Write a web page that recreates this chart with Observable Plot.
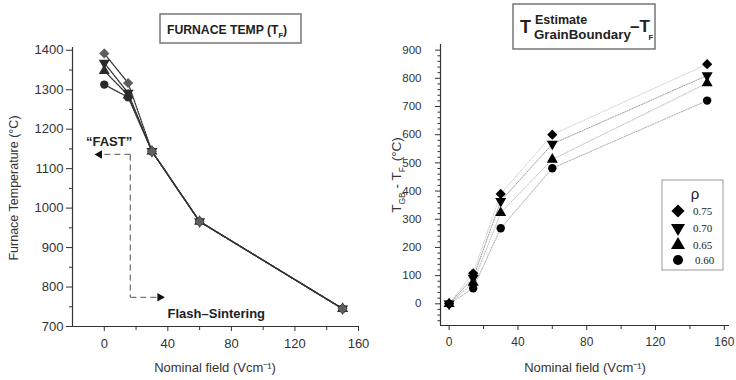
<!DOCTYPE html>
<html>
<head>
<meta charset="utf-8">
<script src="https://cdn.jsdelivr.net/npm/d3@7"></script>
<script src="https://cdn.jsdelivr.net/npm/@observablehq/plot@0.6"></script>
<style>
  html, body { margin: 0; padding: 0; background: #fff; }
  #wrap { position: relative; width: 736px; height: 380px; font-family: "Liberation Sans", Arial, sans-serif; }
  #wrap > svg { position: absolute; top: 0; }
</style>
</head>
<body>
<div id="wrap"></div>
<script>
// ---------- data ----------
const rhoLabels = ["0.75", "0.70", "0.65", "0.60"];
const fieldL = [0, 15, 30, 60, 150];
const fieldR = [0, 14, 30, 60, 150];

// Furnace temperature (°C)
const furnace075 = [1392, 1317, 1144, 966, 745];
const furnace070 = [1368, 1292, 1144, 966, 745];
const furnace065 = [1348, 1286, 1144, 966, 745];
const furnace060 = [1313, 1281, 1144, 966, 745];

// T_GB - T_F (°C)
const gb075 = [0, 108, 390, 600, 850];
const gb070 = [0, 92, 364, 567, 810];
const gb065 = [0, 75, 323, 512, 783];
const gb060 = [0, 55, 268, 481, 721];

const xTicks = [0, 40, 80, 120, 160];
const xMinorL = [20, 60, 100, 140];
const xMinorR = [20, 60, 100, 140];
const yTicksL = [700, 800, 900, 1000, 1100, 1200, 1300, 1400];
const yMinorL = [750, 850, 950, 1050, 1150, 1250, 1350];
const yTicksR = [0, 100, 200, 300, 400, 500, 600, 700, 800, 900];

// annotation anchors (data coordinates of the left panel)
const fastText = [{x: 3, y: 1167, t: "\u201CFAST\u201D"}];
const flashText = [{x: 70.5, y: 733, t: "Flash\u2013Sintering"}];
const guideSegs = [
  {x1: 16.4, y1: 1136, x2: -2, y2: 1136},
  {x1: 16.4, y1: 1136, x2: 16.4, y2: 774},
  {x1: 16.4, y1: 774, x2: 34, y2: 774}
];
const arrowHeads = [{x: -3, y: 1136, rot: -90}, {x: 35, y: 774, rot: 90}];

// ---------- symbols ----------
const symDown = {
  draw(ctx, size) {
    const y = -Math.sqrt(size / (Math.sqrt(3) * 3));
    ctx.moveTo(0, -y * 2);
    ctx.lineTo(Math.sqrt(3) * y, y);
    ctx.lineTo(-Math.sqrt(3) * y, y);
    ctx.closePath();
  }
};
const symbols = [d3.symbolDiamond2, symDown, d3.symbolTriangle, d3.symbolCircle];
const radii = [4.6, 4.1, 4.1, 4.2];

const furnaceSeries = [furnace075, furnace070, furnace065, furnace060];
const gbSeries = [gb075, gb070, gb065, gb060];
const rowsL = furnaceSeries.map((s, k) => fieldL.map((x, i) => ({x, y: s[i], rho: rhoLabels[k]})));
const rowsR = gbSeries.map((s, k) => fieldR.map((x, i) => ({x, y: s[i], rho: rhoLabels[k]})));

const noText = () => "";
const wrap = document.getElementById("wrap");

// ---------- left panel ----------
const leftMarks = [
  Plot.ruleX([-20], {stroke: "#333", strokeWidth: 1.2}),
  Plot.ruleY([700], {stroke: "#333", strokeWidth: 1.2}),
  Plot.axisY({ticks: yTicksL, tickFormat: "d", tickSize: 6, tickPadding: 3, label: null, fontSize: 13}),
  Plot.axisY({ticks: yMinorL, tickSize: 3, tickFormat: noText, label: null}),
  Plot.axisX({ticks: xTicks, tickFormat: "d", tickSize: 5, tickPadding: 7, label: null, fontSize: 13}),
  Plot.axisX({ticks: xMinorL, tickSize: 4, tickFormat: noText, label: null}),
  // annotation guides
  Plot.link(guideSegs, {x1: "x1", y1: "y1", x2: "x2", y2: "y2", stroke: "#777", strokeWidth: 1.3, strokeDasharray: "6,4"}),
  Plot.dot(arrowHeads, {x: "x", y: "y", rotate: "rot", symbol: "triangle", r: 3.2, fill: "#111", stroke: "none"}),
  Plot.text(fastText, {x: "x", y: "y", text: "t", fontWeight: "bold", fontSize: 13, fill: "#222"}),
  Plot.text(flashText, {x: "x", y: "y", text: "t", fontWeight: "bold", fontSize: 13, fill: "#222"})
];
for (let k = 3; k >= 0; k--) {
  leftMarks.push(Plot.line(rowsL[k], {x: "x", y: "y", stroke: "#333", strokeWidth: 1.3, strokeDasharray: "1.5,1.2"}));
}
for (let k = 3; k >= 0; k--) {
  leftMarks.push(Plot.dot(rowsL[k], {x: "x", y: "y", symbol: symbols[k], r: radii[k], fill: k === 0 ? "#5e5e5e" : "#2a2a2a", stroke: "none"}));
}
const left = Plot.plot({
  width: 368, height: 380,
  marginLeft: 72, marginRight: 10, marginTop: 47, marginBottom: 54,
  x: {domain: [-20, 160]},
  y: {domain: [700, 1407]},
  style: {fontFamily: "Liberation Sans, Arial, sans-serif", color: "#333", background: "transparent", overflow: "visible"},
  marks: leftMarks
});
left.style.left = "0px";
wrap.appendChild(left);

// ---------- right panel ----------
const lineColors = ["#cfcfcf", "#9a9a9a", "#bdbdbd", "#a8a8a8"];
const rightMarks = [
  Plot.ruleX([-5], {stroke: "#333", strokeWidth: 1.2}),
  Plot.ruleY([-77], {stroke: "#333", strokeWidth: 1.2}),
  Plot.axisY({ticks: yTicksR, tickFormat: "d", tickSize: 5, tickPadding: 14, label: null, fontSize: 11.5}),
  Plot.axisY({ticks: d3.range(-60, 920, 20).filter(v => v % 100 !== 0), tickSize: 2.5, tickFormat: noText, label: null}),
  Plot.axisX({ticks: xTicks, tickFormat: "d", tickSize: 5, tickPadding: 7, label: null, fontSize: 12}),
  Plot.axisX({ticks: xMinorR, tickSize: 4, tickFormat: noText, label: null})
];
for (let k = 0; k < 4; k++) {
  rightMarks.push(Plot.line(rowsR[k], {x: "x", y: "y", stroke: lineColors[k], strokeWidth: 1, strokeDasharray: "1.2,1.4"}));
}
for (let k = 3; k >= 0; k--) {
  rightMarks.push(Plot.dot(rowsR[k], {x: "x", y: "y", symbol: symbols[k], r: radii[k], fill: "#000", stroke: "none"}));
}
const right = Plot.plot({
  width: 368, height: 380,
  marginLeft: 72, marginRight: 7, marginTop: 44, marginBottom: 55,
  x: {domain: [-5, 163]},
  y: {domain: [-77, 920]},
  style: {fontFamily: "Liberation Sans, Arial, sans-serif", color: "#333", background: "transparent", overflow: "visible"},
  marks: rightMarks
});
right.style.left = "368px";
wrap.appendChild(right);

// ---------- overlay: titles, axis titles, legend ----------
const ov = d3.select(wrap).append("svg")
  .attr("width", 736).attr("height", 380)
  .style("left", "0px").style("pointer-events", "none")
  .attr("font-family", "Liberation Sans, Arial, sans-serif");

// left title box
ov.append("rect").attr("x", 160).attr("y", 14).attr("width", 141).attr("height", 29)
  .attr("fill", "#fff").attr("stroke", "#777").attr("stroke-width", 1.5);
const t1 = ov.append("text").attr("x", 167).attr("y", 34).attr("font-size", 12.2).attr("font-weight", "bold").attr("fill", "#222");
t1.append("tspan").text("FURNACE TEMP (T");
t1.append("tspan").attr("font-size", 7.5).attr("dy", 4).text("F");
t1.append("tspan").attr("dy", -4).text(")");

// right title box
ov.append("rect").attr("x", 513).attr("y", 4).attr("width", 142).attr("height", 45)
  .attr("fill", "#fff").attr("stroke", "#777").attr("stroke-width", 1.5);
ov.append("text").attr("x", 520).attr("y", 33).attr("font-size", 18).attr("font-weight", "bold").attr("fill", "#222").text("T");
ov.append("text").attr("x", 535).attr("y", 24).attr("font-size", 12.5).attr("font-weight", "bold").attr("fill", "#222").text("Estimate");
ov.append("text").attr("x", 534).attr("y", 39).attr("font-size", 13.3).attr("font-weight", "bold").attr("fill", "#222").text("GrainBoundary");
ov.append("text").attr("x", 630).attr("y", 32).attr("font-size", 17).attr("font-weight", "bold").attr("fill", "#222").text("\u2013T");
ov.append("text").attr("x", 648.5).attr("y", 40).attr("font-size", 7.5).attr("font-weight", "bold").attr("fill", "#222").text("F");

// axis titles
ov.append("text").attr("transform", "translate(18,188) rotate(-90)").attr("text-anchor", "middle")
  .attr("font-size", 12.5).attr("fill", "#333").text("Furnace Temperature (\u00B0C)");
ov.append("text").attr("x", 215).attr("y", 372).attr("text-anchor", "middle")
  .attr("font-size", 13).attr("fill", "#333").text("Nominal field (Vcm\u207B\u00B9)");
ov.append("text").attr("x", 585).attr("y", 372).attr("text-anchor", "middle")
  .attr("font-size", 13).attr("fill", "#333").text("Nominal field (Vcm\u207B\u00B9)");
const yr = ov.append("text").attr("transform", "translate(401,175) rotate(-90)").attr("text-anchor", "middle")
  .attr("font-size", 13.5).attr("fill", "#333");
yr.append("tspan").text("T");
yr.append("tspan").attr("font-size", 8.5).attr("dy", 3.5).text("GB");
yr.append("tspan").attr("dy", -3.5).text(" - T");
yr.append("tspan").attr("font-size", 8.5).attr("dy", 3.5).text("F");
yr.append("tspan").attr("dy", -3.5).attr("dx", 2).text(" (\u00B0C)");

// legend
ov.append("rect").attr("x", 662).attr("y", 180).attr("width", 61).attr("height", 90)
  .attr("fill", "#fff").attr("stroke", "#999").attr("stroke-width", 1);
ov.append("text").attr("x", 695).attr("y", 199).attr("text-anchor", "middle").attr("font-size", 15).attr("fill", "#222").text("\u03C1");
const legY = [211, 228, 245, 260];
const legSize = [110, 85, 85, 80];
rhoLabels.forEach((lab, k) => {
  ov.append("path").attr("transform", `translate(678,${legY[k]})`)
    .attr("d", d3.symbol(symbols[k], legSize[k])()).attr("fill", "#000");
  ov.append("text").attr("x", k === 3 ? 695 : 693).attr("y", legY[k] + 4).attr("font-family", "Liberation Serif, serif")
    .attr("font-size", 11).attr("fill", "#222").text(lab);
});
</script>
</body>
</html>
